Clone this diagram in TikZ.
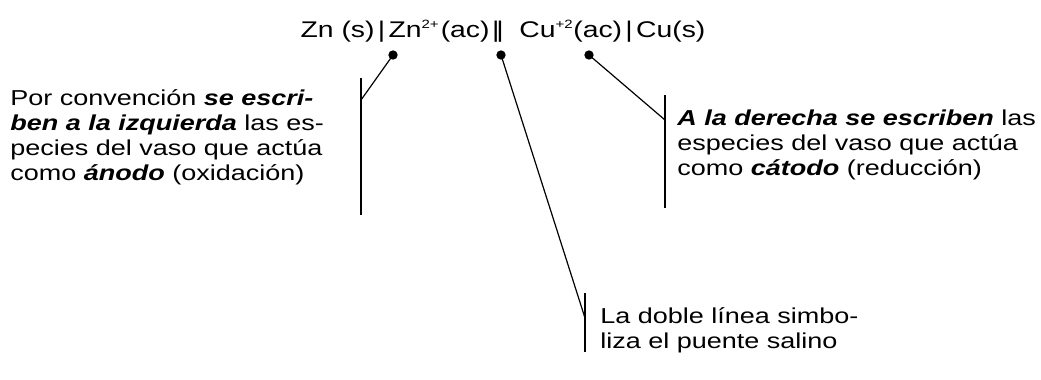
\documentclass[tikz,border=0pt]{standalone}
\usepackage{fontspec}
\setmainfont[FakeStretch=1.25]{Liberation Sans}
\usetikzlibrary{positioning}
\tikzset{
  note/.style={inner sep=0pt, align=left, font=\fontsize{16.2}{18.75}\selectfont},
  bar/.style={line width=0.9pt},
  lead/.style={line width=0.9pt},
  pin dot/.style={circle, fill=black, inner sep=0pt, minimum size=7pt}
}
\newcommand{\sups}[1]{\textsuperscript{\fontsize{9}{9}\selectfont #1}}
\begin{document}
\begin{tikzpicture}[x=0.75pt, y=-0.75pt]
\useasboundingbox (0,0) rectangle (1041,379);
% cell notation
\node[inner sep=0pt, anchor=base, font=\fontsize{17}{20}\selectfont] (cell) at (503,37)
  {Zn (s)\kern2.5pt|\kern2.5pt Zn\sups{2+}\kern1pt(ac)\kern2pt|\kern-2.5pt|\ \ Cu\sups{+2}(ac)\kern2.5pt|\kern2.5pt Cu(s)};
% dots under the species
\node[pin dot] (dzn) at (393,55) {};
\node[pin dot] (dsb) at (501,55) {};
\node[pin dot] (dcu) at (589,55) {};
% brackets
\coordinate (ltop) at (361,78);
\coordinate (ljoin) at (361,100);
\coordinate (lbot) at (361,215);
\coordinate (rtop) at (665,95);
\coordinate (rjoin) at (665,120);
\coordinate (rbot) at (665,208);
\coordinate (btop) at (585,293);
\coordinate (bjoin) at (585,318);
\coordinate (bbot) at (585,352);
\draw[bar] (ltop) -- (lbot);
\draw[bar] (rtop) -- (rbot);
\draw[bar] (btop) -- (bbot);
\draw[lead] (dzn.center) -- (ljoin);
\draw[lead] (dsb.center) -- (bjoin);
\draw[lead] (dcu.center) -- (rjoin);
% notes (base = last line)
\node[note, anchor=base west] (anodo) at (10,180)
  {Por convención \textbf{\textit{se escri-}}\\
   \textbf{\textit{ben a la izquierda}} las es-\\
   pecies del vaso que actúa\\
   como \textbf{\textit{ánodo}} (oxidación)};
\node[note, anchor=base west] (catodo) at (677,175)
  {\textbf{\textit{A la derecha se escriben}} las\\
   especies del vaso que actúa\\
   como \textbf{\textit{cátodo}} (reducción)};
\node[note, anchor=base west] (puente) at (600,348)
  {La doble línea simbo-\\
   liza el puente salino};
\end{tikzpicture}
\end{document}
